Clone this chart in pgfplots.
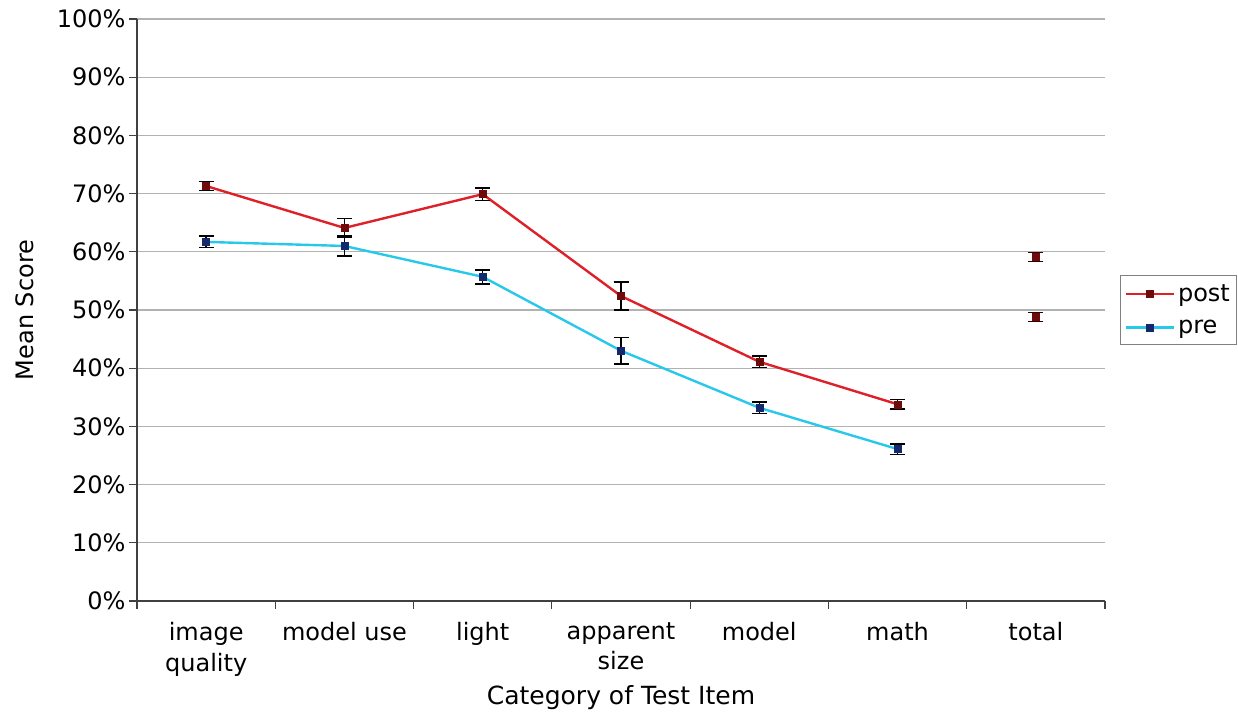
\documentclass[border=0pt]{standalone}
\usepackage{fontspec}
\setmainfont{DejaVu Sans}
\usepackage{pgfplots}
\pgfplotsset{compat=1.18}
\definecolor{postc}{RGB}{222,32,40}
\definecolor{prec}{RGB}{40,200,235}
\definecolor{postm}{RGB}{110,10,10}
\definecolor{prem}{RGB}{20,40,110}
\begin{document}
\begin{tikzpicture}
\begin{axis}[
  at={(0,0)}, anchor=south west,
  scale only axis,
  width=968pt, height=582pt,
  xmin=-0.5, xmax=6.5, ymin=0, ymax=100,
  axis lines*=left,
  axis line style={black!75, line width=1.6pt},
  xtick={0,...,6},
  xticklabels={image\\quality, model use, light, apparent\\size, model, math, total},
  xticklabel style={align=center, font=\fontsize{24}{30.5}\selectfont, anchor=north, yshift=-10pt},
  major x tick style={draw=none},
  minor xtick={-0.5,0.5,...,6.5},
  minor x tick style={black!75, line width=1.2pt},
  ytick={0,10,...,100},
  yticklabel={\pgfmathprintnumber{\tick}\%},
  yticklabel style={font=\fontsize{24}{29}\selectfont},
  /pgf/number format/assume math mode=true,
  ytick style={black!75, line width=1.2pt},
  tick align=outside,
  major tick length=8pt, minor tick length=8pt,
  ymajorgrids, grid style={black!30, line width=1.3pt},
  xlabel={Category of Test Item},
  ylabel={Mean Score},
  xlabel style={font=\fontsize{25}{30}\selectfont, at={(axis description cs:0.5,-0.1667)}, anchor=center},
  ylabel style={font=\fontsize{24}{29}\selectfont, at={(axis description cs:-0.1157,0.5)}, anchor=center},
  legend style={at={(1.0155,0.5)}, anchor=west, draw=black!50, line width=1.2pt,
    font=\fontsize{24}{29}\selectfont, inner xsep=4pt, inner ysep=7pt, row sep=13pt,
    nodes={inner xsep=3pt, inner ysep=2pt}},
  legend cell align=left,
  legend image code/.code={
    \draw[#1, mark repeat=2, mark phase=2] plot coordinates {(0pt,0pt) (24pt,0pt) (48pt,0pt)};
  },
  clip=false,
]
\addplot[color=postc, line width=2.4pt, mark=square*, mark size=3.5pt,
  mark options={fill=postm, draw=postm, line width=0.5pt},
  error bars/.cd, y dir=both, y explicit,
  error bar style={black, line width=1.5pt}, error mark options={black, line width=1.5pt, mark size=7.5pt, rotate=90}]
  table[x=x, y=y, y error=e] {
x y e
0 71.3 0.8
1 64.1 1.6
2 69.9 1.1
3 52.4 2.4
4 41.1 1.0
5 33.8 0.8
};
\addlegendentry{post}
\addplot[color=prec, line width=2.4pt, mark=square*, mark size=3.5pt,
  mark options={fill=prem, draw=prem, line width=0.5pt},
  error bars/.cd, y dir=both, y explicit,
  error bar style={black, line width=1.5pt}, error mark options={black, line width=1.5pt, mark size=7.5pt, rotate=90}]
  table[x=x, y=y, y error=e] {
x y e
0 61.7 1.0
1 61.0 1.7
2 55.7 1.2
3 43.0 2.3
4 33.2 1.0
5 26.1 0.9
};
\addlegendentry{pre}
\addplot[forget plot, only marks, mark=square*, mark size=3.5pt,
  mark options={fill=postm, draw=postm},
  error bars/.cd, y dir=both, y explicit,
  error bar style={black!80!red, line width=1.5pt}, error mark options={black!80!red, line width=1.5pt, mark size=7.5pt, rotate=90}]
  table[x=x, y=y, y error=e] {
x y e
6 59.1 0.8
6 48.8 0.8
};
\end{axis}
\pgfresetboundingbox
\path (-137pt,-111pt) rectangle (1101pt,601pt);
\end{tikzpicture}
\end{document}
